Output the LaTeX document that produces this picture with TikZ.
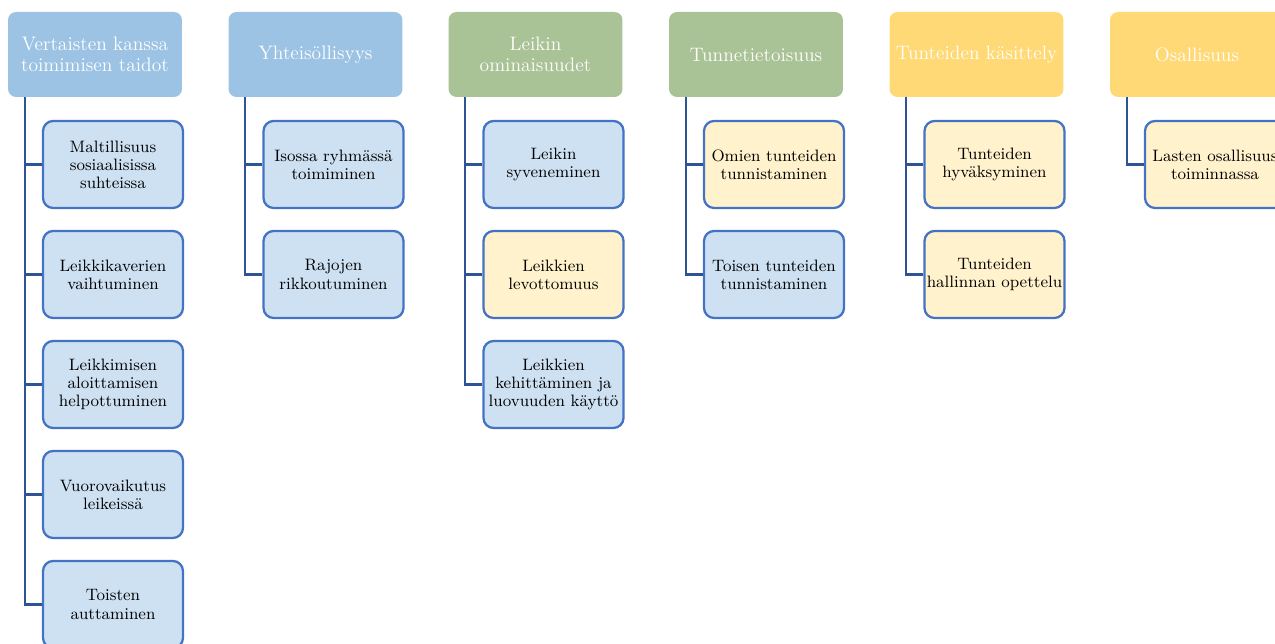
\documentclass[tikz,border=0pt]{standalone}
\usetikzlibrary{positioning}

\definecolor{headblue}{RGB}{157,195,228}
\definecolor{headgreen}{RGB}{169,194,150}
\definecolor{headyellow}{RGB}{255,217,118}
\definecolor{kidblue}{RGB}{206,225,242}
\definecolor{kidyellow}{RGB}{255,242,204}
\definecolor{kidedge}{RGB}{68,114,196}
\definecolor{linkblue}{RGB}{47,84,150}

\begin{document}
\begin{tikzpicture}[x=0.02cm, y=-0.02cm,
  head/.style={rounded corners=0.16cm, minimum width=3.48cm, minimum height=1.7cm,
    inner sep=0pt, align=center, text=white, font=\fontsize{11.1}{11.6}\selectfont},
  kid/.style={draw=kidedge, line width=1.3pt, rounded corners=0.2cm, minimum width=2.8cm,
    minimum height=1.74cm, inner sep=0pt, align=center, font=\fontsize{9.4}{10.3}\selectfont},
  link/.style={draw=linkblue, line width=1.3pt}]
\useasboundingbox (0,0) rectangle (1275,644);

% top row
\begin{scope}[every node/.style={head}]
\node[fill=headblue] (A0) at (95,54.5) {Vertaisten kanssa\\toimimisen taidot};
\node[fill=headblue] (B0) at (315.5,54.5) {Yhteisöllisyys};
\node[fill=headgreen] (C0) at (535.5,54.5) {Leikin\\ominaisuudet};
\node[fill=headgreen] (D0) at (756,54.5) {Tunnetietoisuus};
\node[fill=headyellow] (E0) at (976.5,54.5) {Tunteiden käsittely};
\node[fill=headyellow] (F0) at (1197,54.5) {Osallisuus};
\end{scope}

\begin{scope}[every node/.style={kid, fill=kidblue}]
\node (A1) at (113,164.5) {Maltillisuus\\sosiaalisissa\\suhteissa};
\node (A2) at (113,274.5) {Leikkikaverien\\vaihtuminen};
\node (A3) at (113,384.5) {Leikkimisen\\aloittamisen\\helpottuminen};
\node (A4) at (113,494.5) {Vuorovaikutus\\leikeissä};
\node (A5) at (113,604.5) {Toisten\\auttaminen};
\node (B1) at (333.5,164.5) {Isossa ryhmässä\\toimiminen};
\node (B2) at (333.5,274.5) {Rajojen\\rikkoutuminen};
\node (C1) at (553.5,164.5) {Leikin\\syveneminen};
\node (C3) at (553.5,384.5) {Leikkien\\kehittäminen ja\\luovuuden käyttö};
\node (D2) at (774,274.5) {Toisen tunteiden\\tunnistaminen};
\end{scope}

\begin{scope}[every node/.style={kid, fill=kidyellow}]
\node (C2) at (553.5,274.5) {Leikkien\\levottomuus};
\node (D1) at (774,164.5) {Omien tunteiden\\tunnistaminen};
\node (E1) at (994.5,164.5) {Tunteiden\\hyväksyminen};
\node (E2) at (994.5,274.5) {Tunteiden\\hallinnan opettelu};
\node (F1) at (1215,164.5) {Lasten osallisuus\\toiminnassa};
\end{scope}

% spines
\coordinate (a) at ([xshift=0.34cm]A0.south west);
\coordinate (b) at ([xshift=0.34cm]B0.south west);
\coordinate (c) at ([xshift=0.34cm]C0.south west);
\coordinate (d) at ([xshift=0.34cm]D0.south west);
\coordinate (e) at ([xshift=0.34cm]E0.south west);
\coordinate (f) at ([xshift=0.34cm]F0.south west);

\draw[link] (a) |- (A1.west) (a) |- (A2.west) (a) |- (A3.west) (a) |- (A4.west) (a) |- (A5.west);
\draw[link] (b) |- (B1.west) (b) |- (B2.west);
\draw[link] (c) |- (C1.west) (c) |- (C2.west) (c) |- (C3.west);
\draw[link] (d) |- (D1.west) (d) |- (D2.west);
\draw[link] (e) |- (E1.west) (e) |- (E2.west);
\draw[link] (f) |- (F1.west);

\end{tikzpicture}
\end{document}
